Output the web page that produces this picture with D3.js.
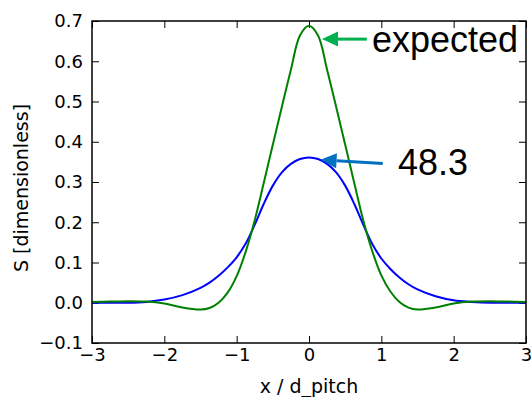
<!DOCTYPE html>
<html>
<head>
<meta charset="utf-8">
<script src="https://cdn.jsdelivr.net/npm/d3@7"></script>
<style>
  body { margin: 0; background: #fff; }
  svg { display: block; }
  .tick text { font-family: "DejaVu Sans", sans-serif; font-size: 18px; fill: #000; }
  .tick line { stroke: #000; stroke-width: 1; }
</style>
</head>
<body>
<svg id="viz"></svg>
<script>
// ------------------------------------------------------------
// DATA

var xValues = [-3, -2.75, -2.5, -2.25, -2, -1.75,
  -1.5, -1.375, -1.25, -1.125, -1, -0.875, -0.75, -0.625, -0.5, -0.375, -0.25, -0.125,
  0,
  0.125, 0.25, 0.375, 0.5, 0.625, 0.75, 0.875, 1, 1.125, 1.25, 1.375, 1.5,
  1.75, 2, 2.25, 2.5, 2.75, 3];

var expected = [0.002, 0.003, 0.004, 0.003, -0.002, -0.012,
  -0.017, -0.013, 0.000, 0.025, 0.066, 0.127, 0.205, 0.298, 0.393, 0.487, 0.579, 0.664,
  0.688,
  0.664, 0.579, 0.487, 0.393, 0.298, 0.205, 0.128, 0.068, 0.028, 0.002, -0.012, -0.017,
  -0.012, -0.002, 0.003, 0.004, 0.003, 0.002];

var run483 = [0.000, 0.000, 0.000, 0.002, 0.008, 0.019,
  0.037, 0.050, 0.067, 0.088, 0.113, 0.147, 0.194, 0.246, 0.291, 0.324, 0.345, 0.357,
  0.361,
  0.357, 0.345, 0.324, 0.291, 0.246, 0.194, 0.146, 0.110, 0.084, 0.063, 0.046, 0.033,
  0.016, 0.006, 0.002, 0.000, 0.000, 0.000];

var xTicks = [-3, -2, -1, 0, 1, 2, 3];
var yTicks = [-0.1, 0.0, 0.1, 0.2, 0.3, 0.4, 0.5, 0.6, 0.7];

// annotations: label, arrow tip, arrow tail and text anchor, in data units
var labels = ["expected", "48.3"];
var arrowTips = [[0.18, 0.655], [0.16, 0.355]];
var arrowTails = [[0.80, 0.655], [1.02, 0.346]];
var labelAt = [[0.87, 0.624], [1.23, 0.317]];
var arrowColors = ["#00b050", "#0070c0"];

// ------------------------------------------------------------

var w = 531, h = 397;
var margin = {top: 21, right: 5, bottom: 54, left: 92};

var svg = d3.select("#viz").attr("width", w).attr("height", h);

var x = d3.scaleLinear().domain([-3, 3]).range([margin.left, w - margin.right]);
var y = d3.scaleLinear().domain([-0.1, 0.7]).range([h - margin.bottom, margin.top]);

// axes, ticks pointing inward
svg.append("g")
  .attr("transform", "translate(0," + y(-0.1) + ")")
  .call(d3.axisBottom(x).tickValues(xTicks).tickFormat(d3.format("d"))
    .tickSizeInner(-7).tickSizeOuter(0).tickPadding(5));

svg.append("g")
  .attr("transform", "translate(" + x(-3) + ",0)")
  .call(d3.axisLeft(y).tickValues(yTicks).tickFormat(d3.format(".1f"))
    .tickSizeInner(-7).tickSizeOuter(0).tickPadding(9));

svg.append("g")
  .attr("transform", "translate(0," + y(0.7) + ")")
  .call(d3.axisTop(x).tickValues(xTicks).tickFormat("").tickSizeInner(-7).tickSizeOuter(0));

svg.append("g")
  .attr("transform", "translate(" + x(3) + ",0)")
  .call(d3.axisRight(y).tickValues(yTicks).tickFormat("").tickSizeInner(-7).tickSizeOuter(0));

svg.selectAll(".domain").remove();

// curves
var line = d3.line()
  .x(function(d, i) { return x(xValues[i]); })
  .y(function(d) { return y(d); })
  .curve(d3.curveCatmullRom.alpha(0.5));

svg.append("path").datum(run483)
  .attr("d", line)
  .attr("fill", "none").attr("stroke", "#0000ff").attr("stroke-width", 2);

svg.append("path").datum(expected)
  .attr("d", line)
  .attr("fill", "none").attr("stroke", "#008000").attr("stroke-width", 2);

// frame
svg.append("rect")
  .attr("x", x(-3)).attr("y", y(0.7))
  .attr("width", x(3) - x(-3)).attr("height", y(-0.1) - y(0.7))
  .attr("fill", "none").attr("stroke", "#000").attr("stroke-width", 1.5);

// axis labels
svg.append("text")
  .attr("x", (x(-3) + x(3)) / 2).attr("y", 393)
  .attr("text-anchor", "middle")
  .style("font-family", "DejaVu Sans, sans-serif").style("font-size", "19px")
  .text("x / d_pitch");

svg.append("text")
  .attr("transform", "translate(28," + ((y(-0.1) + y(0.7)) / 2 + 6) + ") rotate(-90)")
  .attr("text-anchor", "middle")
  .style("font-family", "DejaVu Sans, sans-serif").style("font-size", "19px")
  .text("S [dimensionless]");

// annotation arrows
labels.forEach(function(t, i) {
  var tip = [x(arrowTips[i][0]), y(arrowTips[i][1])];
  var tail = [x(arrowTails[i][0]), y(arrowTails[i][1])];
  var ang = Math.atan2(tail[1] - tip[1], tail[0] - tip[0]);
  var len = 16, half = 7.5;
  var bx = tip[0] + len * Math.cos(ang), by = tip[1] + len * Math.sin(ang);
  var px = -Math.sin(ang) * half, py = Math.cos(ang) * half;

  svg.append("line")
    .attr("x1", tail[0]).attr("y1", tail[1]).attr("x2", bx).attr("y2", by)
    .attr("stroke", arrowColors[i]).attr("stroke-width", 3);

  svg.append("path")
    .attr("d", "M" + tip[0] + "," + tip[1] + "L" + (bx + px) + "," + (by + py) +
      "L" + (bx - px) + "," + (by - py) + "Z")
    .attr("fill", arrowColors[i]);

  svg.append("text")
    .attr("x", x(labelAt[i][0])).attr("y", y(labelAt[i][1]))
    .style("font-family", "Liberation Sans, Arial, sans-serif").style("font-size", "36px")
    .attr("fill", "#000")
    .text(t);
});
</script>
</body>
</html>
